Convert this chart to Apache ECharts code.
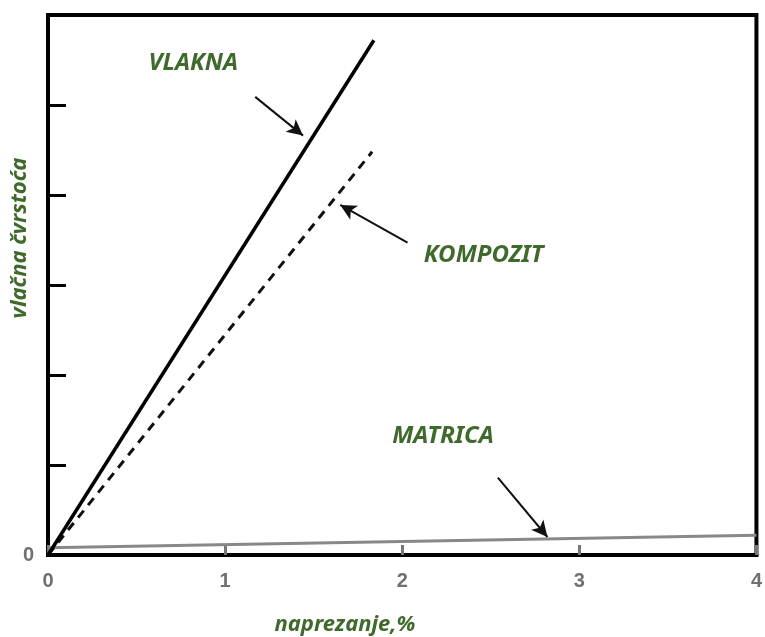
<!DOCTYPE html>
<html><head><meta charset="utf-8">
<script src="https://cdn.jsdelivr.net/npm/echarts@6/dist/echarts.min.js"></script>
<style>html,body{margin:0;padding:0;background:#fff}#c{width:765px;height:637px}</style>
</head><body><div id="c"></div>
<script>
// data (strain %, strength relative units)
const vlakna = [[0, 0], [1.84, 5.72]];
const kompozit = [[0, 0], [1.83, 4.48]];
const matrica = [[0, 0.08], [4, 0.22]];
const xTicks = [0, 1, 2, 3, 4];
const labels = [
  { name: 'VLAKNA', coord: [0.82, 5.47] },
  { name: 'KOMPOZIT', coord: [2.46, 3.33] },
  { name: 'MATRICA', coord: [2.23, 1.32] }
];
const arrows = [
  [[1.17, 5.09], [1.44, 4.66]],
  [[2.03, 3.47], [1.65, 3.89]],
  [[2.54, 0.86], [2.82, 0.20]]
];
const green = '#3f6a2b';
const chart = echarts.init(document.getElementById('c'));
chart.setOption({
  animation: false,
  grid: { left: 48, right: 7, top: 15, bottom: 82, show: true, borderColor: '#000', borderWidth: 4 },
  xAxis: {
    type: 'value', min: 0, max: 4, interval: 1,
    axisLine: { show: true, lineStyle: { color: '#000', width: 4 } },
    axisTick: { show: true, inside: true, length: 10, lineStyle: { color: '#777', width: 3 } },
    splitLine: { show: false },
    axisLabel: { margin: 16, color: '#707070', fontSize: 20, fontFamily: 'Liberation Sans', fontWeight: 'bold',
      formatter: v => xTicks.includes(v) ? String(v) : '' }
  },
  yAxis: {
    type: 'value', min: 0, max: 6, interval: 1,
    axisLine: { show: true, lineStyle: { color: '#000', width: 4 } },
    axisTick: { show: true, inside: true, length: 18, lineStyle: { color: '#000', width: 3 } },
    splitLine: { show: false },
    axisLabel: { margin: 14, color: '#707070', fontSize: 20, fontFamily: 'Liberation Sans', fontWeight: 'bold',
      formatter: v => v === 0 ? '0' : '' }
  },
  graphic: [
    { type: 'text', x: 345, y: 625, style: { text: 'naprezanje,%', fill: green, font: 'italic bold 22px "Noto Sans"', align: 'center', verticalAlign: 'middle' } },
    { type: 'text', x: 20, y: 238, rotation: Math.PI / 2,
      style: { text: 'vlačna čvrstoća', fill: green, font: 'italic bold 22px "Noto Sans"', align: 'center', verticalAlign: 'middle' } }
  ],
  series: [
    { type: 'line', data: matrica, symbol: 'none', lineStyle: { color: '#888', width: 3 }, z: 2 },
    { type: 'line', data: kompozit, symbol: 'none', lineStyle: { color: '#111', width: 3, type: [9, 7] }, z: 3 },
    { type: 'line', data: vlakna, symbol: 'none', lineStyle: { color: '#000', width: 3.5 }, z: 4,
      markPoint: {
        symbol: 'circle', symbolSize: 0,
        label: { show: true, position: 'inside', formatter: p => p.name, color: green, fontFamily: 'Noto Sans', fontStyle: 'italic', fontWeight: 'bold', fontSize: 24 },
        data: labels.map(l => ({ name: l.name, coord: l.coord }))
      },
      markLine: {
        silent: true, symbol: ['none', 'arrow'], symbolSize: [12, 16],
        label: { show: false },
        lineStyle: { color: '#111', width: 2, type: 'solid' },
        data: arrows.map(a => [{ coord: a[0] }, { coord: a[1] }])
      }
    }
  ]
});
</script></body></html>
